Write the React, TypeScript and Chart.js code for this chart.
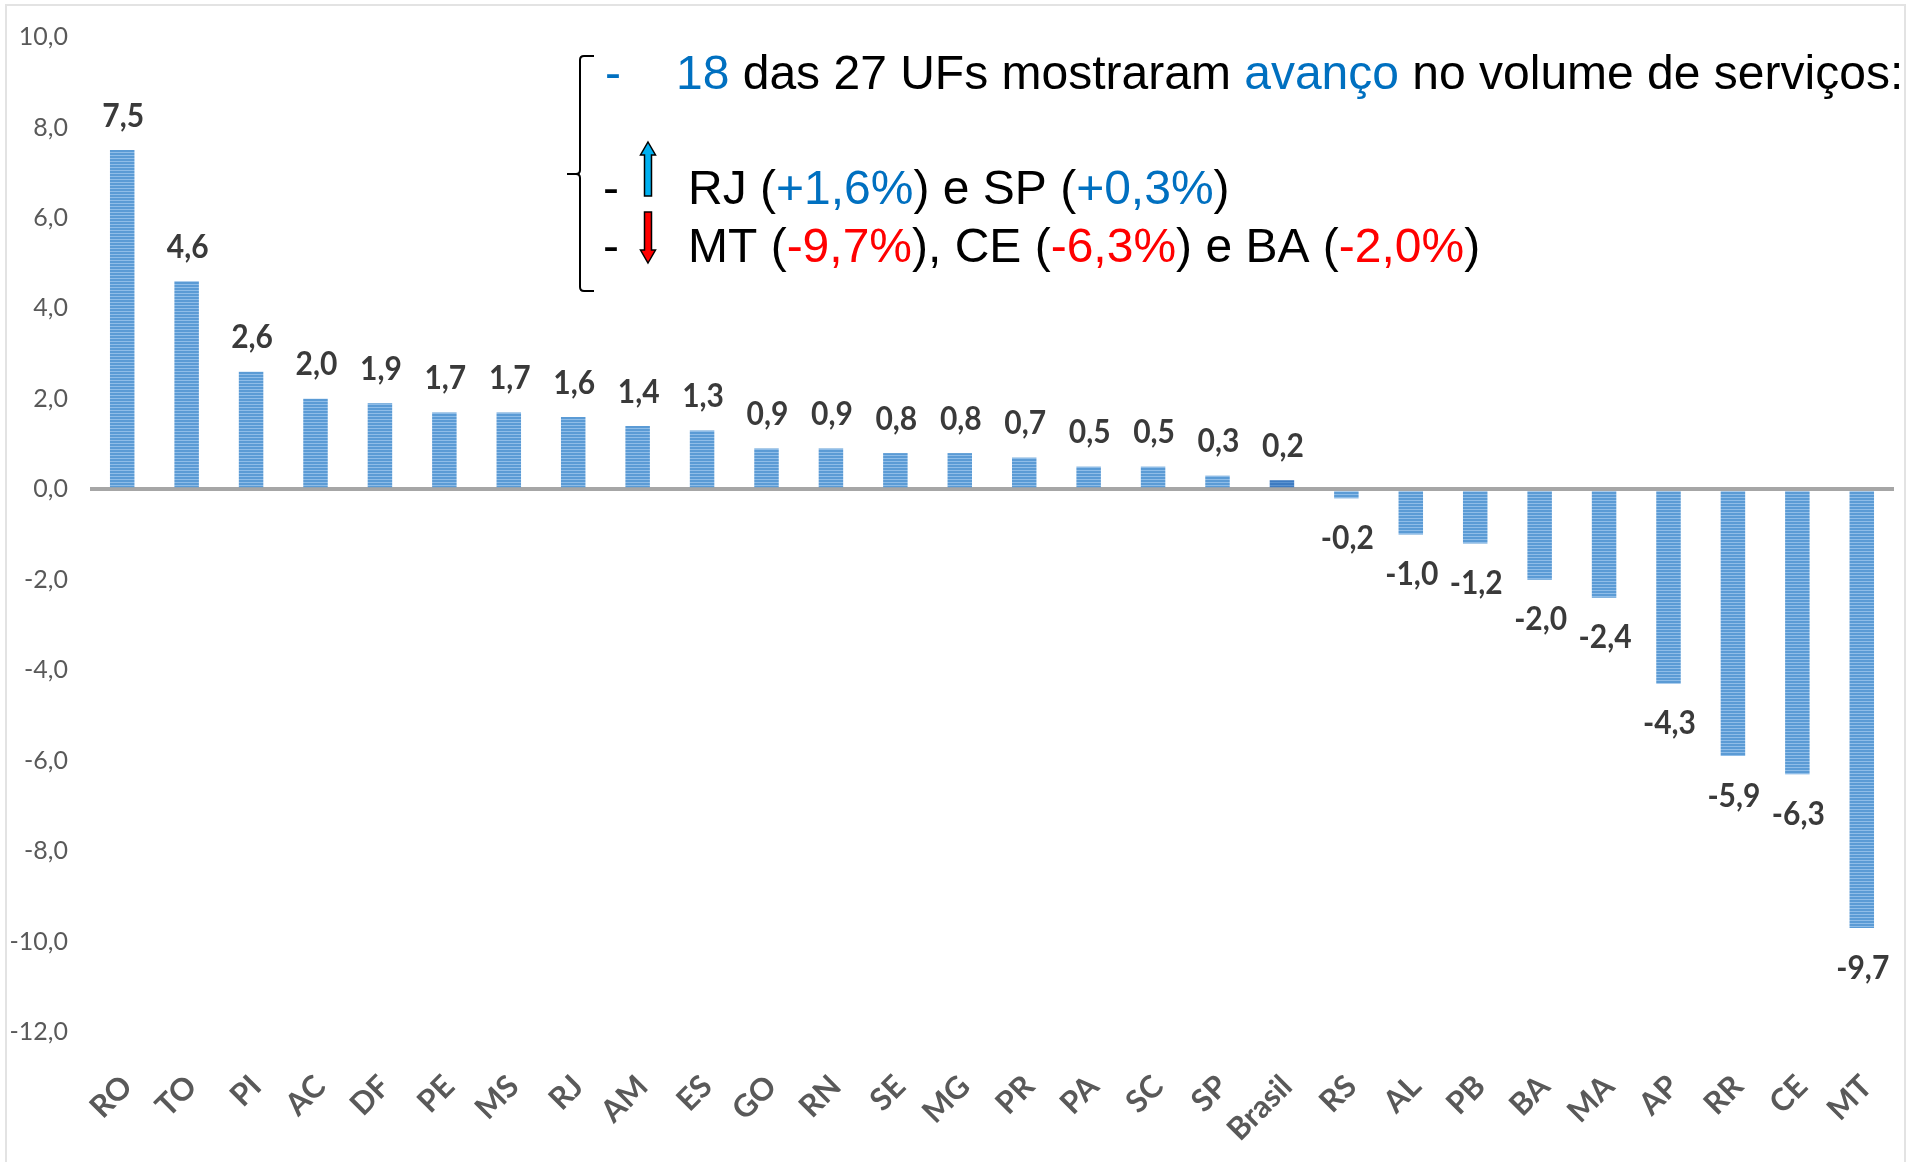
import React, { useEffect, useRef } from 'react';
import { Chart, registerables } from 'chart.js';

Chart.register(...registerables);

// ---------- data ----------
const categories = ['RO', 'TO', 'PI', 'AC', 'DF', 'PE', 'MS', 'RJ', 'AM', 'ES', 'GO', 'RN', 'SE', 'MG', 'PR', 'PA', 'SC', 'SP', 'Brasil', 'RS', 'AL', 'PB', 'BA', 'MA', 'AP', 'RR', 'CE', 'MT'];
const values = [7.5, 4.6, 2.6, 2.0, 1.9, 1.7, 1.7, 1.6, 1.4, 1.3, 0.9, 0.9, 0.8, 0.8, 0.7, 0.5, 0.5, 0.3, 0.2, -0.2, -1.0, -1.2, -2.0, -2.4, -4.3, -5.9, -6.3, -9.7];
const highlightCategory = 'Brasil';
const yMin = -12;
const yMax = 10;
const yStep = 2;

const BLUE = '#0070C0';
const RED = '#FF0000';
const BLACK = '#000000';

const noteLine1: [string, string][] = [['18', BLUE], [' das 27 UFs mostraram ', BLACK], ['avanço', BLUE], [' no volume de serviços:', BLACK]];
const noteLine2: [string, string][] = [['RJ (', BLACK], ['+1,6%', BLUE], [') e SP (', BLACK], ['+0,3%', BLUE], [')', BLACK]];
const noteLine3: [string, string][] = [['MT (', BLACK], ['-9,7%', RED], ['), CE (', BLACK], ['-6,3%', RED], [') e BA (', BLACK], ['-2,0%', RED], [')', BLACK]];

const fmt = (v: number) => v.toFixed(1).replace('.', ',');

function makePattern(base: string, stripe: string): CanvasPattern | string {
  const c = document.createElement('canvas');
  c.width = 4;
  c.height = 3;
  const g = c.getContext('2d');
  if (!g) return base;
  g.fillStyle = base;
  g.fillRect(0, 0, 4, 3);
  g.fillStyle = stripe;
  g.fillRect(0, 2, 4, 1);
  const p = g.createPattern(c, 'repeat');
  return p || base;
}

const framePlugin = {
  id: 'frame',
  beforeDraw(chart: any) {
    const ctx = chart.ctx;
    ctx.save();
    ctx.fillStyle = '#ffffff';
    ctx.fillRect(0, 0, chart.width, chart.height);
    ctx.strokeStyle = '#e3e3e3';
    ctx.lineWidth = 2;
    ctx.strokeRect(6, 5, 1899, 1200);
    ctx.restore();
  },
};

const dataLabelPlugin = {
  id: 'dataLabels',
  afterDatasetsDraw(chart: any) {
    const ctx = chart.ctx;
    const meta = chart.getDatasetMeta(0);
    ctx.save();
    ctx.font = 'bold 30px Lato';
    ctx.fillStyle = '#3a3a3a';
    ctx.textAlign = 'center';
    ctx.textBaseline = 'middle';
    meta.data.forEach((bar: any, i: number) => {
      const v = values[i];
      const y = v >= 0 ? bar.y - 34 : bar.y + 40;
      ctx.save();
      ctx.translate(bar.x + 1, y);
      ctx.scale(1, 1.1);
      ctx.fillText(fmt(v), 0, 0);
      ctx.restore();
    });
    ctx.restore();
  },
};

function drawSegments(ctx: CanvasRenderingContext2D, segs: [string, string][], x: number, y: number) {
  let cx = x;
  segs.forEach(([t, c]) => {
    ctx.fillStyle = c;
    ctx.fillText(t, cx, y);
    cx += ctx.measureText(t).width;
  });
}

function drawArrow(ctx: CanvasRenderingContext2D, cx: number, y0: number, y1: number, up: boolean, fill: string) {
  const sw = 3.5;
  const hw = 7.5;
  const hh = 13;
  ctx.beginPath();
  if (up) {
    ctx.moveTo(cx, y0);
    ctx.lineTo(cx + hw, y0 + hh);
    ctx.lineTo(cx + sw, y0 + hh);
    ctx.lineTo(cx + sw, y1);
    ctx.lineTo(cx - sw, y1);
    ctx.lineTo(cx - sw, y0 + hh);
    ctx.lineTo(cx - hw, y0 + hh);
  } else {
    ctx.moveTo(cx, y1);
    ctx.lineTo(cx + hw, y1 - hh);
    ctx.lineTo(cx + sw, y1 - hh);
    ctx.lineTo(cx + sw, y0);
    ctx.lineTo(cx - sw, y0);
    ctx.lineTo(cx - sw, y1 - hh);
    ctx.lineTo(cx - hw, y1 - hh);
  }
  ctx.closePath();
  ctx.fillStyle = fill;
  ctx.fill();
  ctx.strokeStyle = '#000000';
  ctx.lineWidth = 1.5;
  ctx.stroke();
}

const notePlugin = {
  id: 'note',
  afterDraw(chart: any) {
    const ctx: CanvasRenderingContext2D = chart.ctx;
    ctx.save();
    ctx.strokeStyle = '#000000';
    ctx.lineWidth = 2;
    ctx.beginPath();
    ctx.moveTo(594, 56);
    ctx.lineTo(584, 56);
    ctx.quadraticCurveTo(580, 56, 580, 60);
    ctx.lineTo(580, 170);
    ctx.quadraticCurveTo(580, 174, 576, 174);
    ctx.lineTo(567, 174);
    ctx.moveTo(576, 174);
    ctx.quadraticCurveTo(580, 174, 580, 178);
    ctx.lineTo(580, 287);
    ctx.quadraticCurveTo(580, 291, 584, 291);
    ctx.lineTo(594, 291);
    ctx.stroke();

    ctx.font = '48px "Liberation Sans", Arial, sans-serif';
    ctx.textBaseline = 'alphabetic';
    ctx.textAlign = 'left';
    ctx.fillStyle = BLUE;
    ctx.fillText('-', 605, 89);
    drawSegments(ctx, noteLine1, 676, 89);
    ctx.fillStyle = BLACK;
    ctx.fillText('-', 603, 204);
    ctx.fillText('-', 603, 262);
    drawArrow(ctx, 648, 142, 196, true, '#00B0F0');
    drawArrow(ctx, 648, 212, 263, false, '#FF0000');
    drawSegments(ctx, noteLine2, 688, 204);
    drawSegments(ctx, noteLine3, 688, 262);
    ctx.restore();
  },
};

export default function App() {
  const ref = useRef<HTMLCanvasElement | null>(null);

  useEffect(() => {
    document.body.style.margin = '0';
    const canvas = ref.current;
    if (!canvas) return;
    const normal = makePattern('#5B9BD5', '#8FBDE8');
    const dark = makePattern('#3E7BC2', '#5C93D0');
    const colors = categories.map((c) => (c === highlightCategory ? dark : normal));

    const chart = new Chart(canvas, {
      type: 'bar',
      data: {
        labels: categories,
        datasets: [
          {
            data: values,
            backgroundColor: colors as any,
            borderWidth: 0,
            categoryPercentage: 1,
            barPercentage: 0.38,
          },
        ],
      },
      options: {
        responsive: false,
        animation: false,
        events: [],
        layout: { padding: { top: 33, right: 23, left: 0, bottom: 0 } },
        plugins: {
          legend: { display: false },
          tooltip: { enabled: false },
          title: { display: false },
        },
        scales: {
          x: {
            grid: { display: false },
            border: { display: false },
            ticks: {
              autoSkip: false,
              maxRotation: 45,
              minRotation: 45,
              padding: 28,
              labelOffset: 5,
              color: '#595959',
              font: { family: 'Lato', size: 31, weight: 'bold' },
            },
            afterFit(scale: any) {
              scale.height = 130;
            },
          },
          y: {
            min: yMin,
            max: yMax,
            border: { display: false },
            grid: {
              drawTicks: false,
              color: (c: any) => (c.tick && c.tick.value === 0 ? '#A6A6A6' : 'rgba(0,0,0,0)'),
              lineWidth: (c: any) => (c.tick && c.tick.value === 0 ? 4 : 0),
            },
            ticks: {
              stepSize: yStep,
              padding: 22,
              color: '#595959',
              font: { family: 'Lato', size: 25 },
              callback: (v: any) => fmt(Number(v)),
            },
            afterFit(scale: any) {
              scale.width = 90;
            },
          },
        },
      },
      plugins: [framePlugin, dataLabelPlugin, notePlugin],
    });
    return () => chart.destroy();
  }, []);

  return (
    <div style={{ position: 'fixed', left: 0, top: 0, width: 1917, height: 1162, overflow: 'hidden', background: '#fff' }}>
      <canvas ref={ref} width={1917} height={1162} style={{ width: 1917, height: 1162, display: 'block' }} />
    </div>
  );
}
